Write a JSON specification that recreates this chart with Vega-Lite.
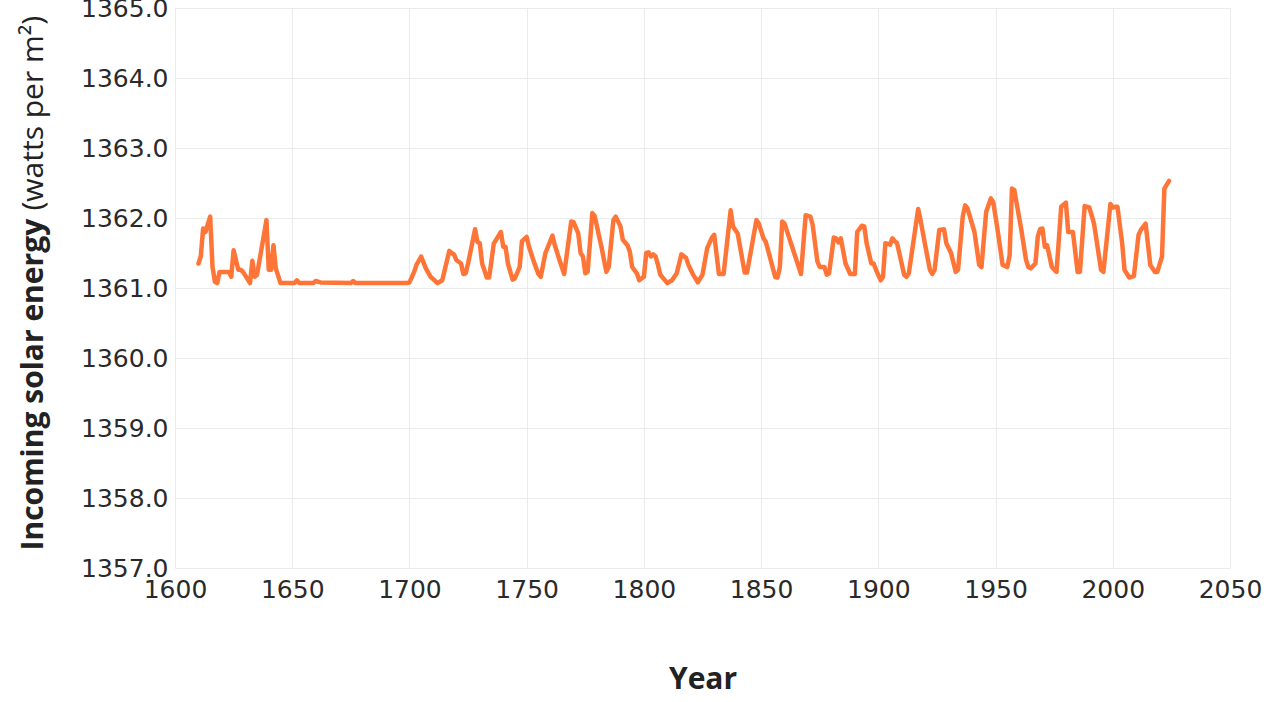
{
  "$schema": "https://vega.github.io/schema/vega-lite/v6.json",
  "autosize": {"type": "none"},
  "width": 1055,
  "height": 560,
  "padding": {"left": 175, "top": 8, "right": 40, "bottom": 134},
  "background": "white",
  "config": {"view": {"stroke": null}},
  "data": {"values": [
    {"year":1610,"tsi":1361.35},{"year":1611,"tsi":1361.45},{"year":1612,"tsi":1361.85},{"year":1613,"tsi":1361.8},{"year":1615,"tsi":1362.02},
    {"year":1616,"tsi":1361.3},{"year":1617,"tsi":1361.09},{"year":1618,"tsi":1361.07},{"year":1619,"tsi":1361.23},{"year":1623,"tsi":1361.23},
    {"year":1624,"tsi":1361.16},{"year":1625,"tsi":1361.54},{"year":1627,"tsi":1361.26},{"year":1628,"tsi":1361.26},{"year":1629,"tsi":1361.23},
    {"year":1632,"tsi":1361.07},{"year":1633,"tsi":1361.39},{"year":1634,"tsi":1361.16},{"year":1635,"tsi":1361.19},{"year":1639,"tsi":1361.97},
    {"year":1640,"tsi":1361.26},{"year":1641,"tsi":1361.26},{"year":1642,"tsi":1361.61},{"year":1643,"tsi":1361.28},{"year":1645,"tsi":1361.07},
    {"year":1651,"tsi":1361.07},{"year":1652,"tsi":1361.11},{"year":1653,"tsi":1361.07},{"year":1659,"tsi":1361.07},{"year":1660,"tsi":1361.1},
    {"year":1662,"tsi":1361.08},{"year":1675,"tsi":1361.07},{"year":1676,"tsi":1361.1},{"year":1677,"tsi":1361.07},{"year":1699,"tsi":1361.07},
    {"year":1700,"tsi":1361.08},{"year":1702,"tsi":1361.23},{"year":1703,"tsi":1361.33},{"year":1705,"tsi":1361.45},{"year":1707,"tsi":1361.28},
    {"year":1709,"tsi":1361.16},{"year":1712,"tsi":1361.07},{"year":1714,"tsi":1361.11},{"year":1717,"tsi":1361.53},{"year":1718,"tsi":1361.5},
    {"year":1719,"tsi":1361.48},{"year":1720,"tsi":1361.4},{"year":1722,"tsi":1361.35},{"year":1723,"tsi":1361.2},{"year":1724,"tsi":1361.21},
    {"year":1725,"tsi":1361.35},{"year":1728,"tsi":1361.84},{"year":1729,"tsi":1361.66},{"year":1730,"tsi":1361.64},{"year":1731,"tsi":1361.35},
    {"year":1733,"tsi":1361.15},{"year":1734,"tsi":1361.15},{"year":1736,"tsi":1361.64},{"year":1737,"tsi":1361.69},{"year":1739,"tsi":1361.8},
    {"year":1740,"tsi":1361.59},{"year":1741,"tsi":1361.59},{"year":1742,"tsi":1361.35},{"year":1744,"tsi":1361.12},{"year":1745,"tsi":1361.14},
    {"year":1747,"tsi":1361.3},{"year":1748,"tsi":1361.67},{"year":1750,"tsi":1361.73},{"year":1751,"tsi":1361.59},{"year":1753,"tsi":1361.38},
    {"year":1755,"tsi":1361.2},{"year":1756,"tsi":1361.16},{"year":1758,"tsi":1361.5},{"year":1759,"tsi":1361.58},{"year":1761,"tsi":1361.75},
    {"year":1762,"tsi":1361.61},{"year":1764,"tsi":1361.4},{"year":1766,"tsi":1361.2},{"year":1769,"tsi":1361.95},{"year":1770,"tsi":1361.94},
    {"year":1772,"tsi":1361.78},{"year":1773,"tsi":1361.5},{"year":1774,"tsi":1361.45},{"year":1775,"tsi":1361.21},{"year":1776,"tsi":1361.23},
    {"year":1778,"tsi":1362.07},{"year":1779,"tsi":1362.03},{"year":1782,"tsi":1361.57},{"year":1784,"tsi":1361.23},{"year":1785,"tsi":1361.3},
    {"year":1787,"tsi":1361.97},{"year":1788,"tsi":1362.02},{"year":1790,"tsi":1361.88},{"year":1791,"tsi":1361.69},{"year":1793,"tsi":1361.61},
    {"year":1794,"tsi":1361.52},{"year":1795,"tsi":1361.3},{"year":1797,"tsi":1361.21},{"year":1798,"tsi":1361.11},{"year":1800,"tsi":1361.16},
    {"year":1801,"tsi":1361.5},{"year":1802,"tsi":1361.51},{"year":1803,"tsi":1361.45},{"year":1804,"tsi":1361.48},{"year":1805,"tsi":1361.45},
    {"year":1806,"tsi":1361.33},{"year":1807,"tsi":1361.19},{"year":1810,"tsi":1361.07},{"year":1812,"tsi":1361.11},{"year":1814,"tsi":1361.21},
    {"year":1816,"tsi":1361.48},{"year":1818,"tsi":1361.43},{"year":1819,"tsi":1361.33},{"year":1821,"tsi":1361.19},{"year":1822,"tsi":1361.14},
    {"year":1823,"tsi":1361.08},{"year":1825,"tsi":1361.19},{"year":1827,"tsi":1361.57},{"year":1829,"tsi":1361.72},{"year":1830,"tsi":1361.76},
    {"year":1832,"tsi":1361.2},{"year":1834,"tsi":1361.2},{"year":1837,"tsi":1362.11},{"year":1838,"tsi":1361.88},{"year":1840,"tsi":1361.78},
    {"year":1843,"tsi":1361.22},{"year":1844,"tsi":1361.22},{"year":1848,"tsi":1361.97},{"year":1849,"tsi":1361.92},{"year":1851,"tsi":1361.71},
    {"year":1852,"tsi":1361.66},{"year":1856,"tsi":1361.16},{"year":1857,"tsi":1361.15},{"year":1858,"tsi":1361.3},{"year":1859,"tsi":1361.95},
    {"year":1860,"tsi":1361.92},{"year":1863,"tsi":1361.61},{"year":1867,"tsi":1361.2},{"year":1869,"tsi":1362.04},{"year":1871,"tsi":1362.02},
    {"year":1872,"tsi":1361.9},{"year":1874,"tsi":1361.38},{"year":1875,"tsi":1361.3},{"year":1877,"tsi":1361.3},{"year":1878,"tsi":1361.19},
    {"year":1879,"tsi":1361.21},{"year":1881,"tsi":1361.72},{"year":1882,"tsi":1361.71},{"year":1883,"tsi":1361.65},{"year":1884,"tsi":1361.71},
    {"year":1886,"tsi":1361.35},{"year":1888,"tsi":1361.2},{"year":1890,"tsi":1361.2},{"year":1891,"tsi":1361.8},{"year":1893,"tsi":1361.89},
    {"year":1894,"tsi":1361.88},{"year":1895,"tsi":1361.64},{"year":1897,"tsi":1361.35},{"year":1898,"tsi":1361.35},{"year":1899,"tsi":1361.26},
    {"year":1901,"tsi":1361.11},{"year":1902,"tsi":1361.16},{"year":1903,"tsi":1361.64},{"year":1905,"tsi":1361.62},{"year":1906,"tsi":1361.71},
    {"year":1907,"tsi":1361.67},{"year":1908,"tsi":1361.64},{"year":1911,"tsi":1361.19},{"year":1912,"tsi":1361.16},{"year":1913,"tsi":1361.21},
    {"year":1916,"tsi":1361.9},{"year":1917,"tsi":1362.13},{"year":1918,"tsi":1361.97},{"year":1920,"tsi":1361.61},{"year":1922,"tsi":1361.26},
    {"year":1923,"tsi":1361.2},{"year":1924,"tsi":1361.26},{"year":1926,"tsi":1361.83},{"year":1928,"tsi":1361.84},{"year":1929,"tsi":1361.64},
    {"year":1931,"tsi":1361.5},{"year":1933,"tsi":1361.23},{"year":1934,"tsi":1361.26},{"year":1936,"tsi":1362.02},{"year":1937,"tsi":1362.18},
    {"year":1938,"tsi":1362.14},{"year":1941,"tsi":1361.8},{"year":1943,"tsi":1361.33},{"year":1944,"tsi":1361.3},{"year":1946,"tsi":1362.09},
    {"year":1948,"tsi":1362.28},{"year":1949,"tsi":1362.23},{"year":1951,"tsi":1361.8},{"year":1953,"tsi":1361.33},{"year":1955,"tsi":1361.3},
    {"year":1956,"tsi":1361.47},{"year":1957,"tsi":1362.42},{"year":1958,"tsi":1362.4},{"year":1959,"tsi":1362.21},{"year":1961,"tsi":1361.83},
    {"year":1963,"tsi":1361.4},{"year":1964,"tsi":1361.3},{"year":1965,"tsi":1361.28},{"year":1967,"tsi":1361.35},{"year":1968,"tsi":1361.73},
    {"year":1969,"tsi":1361.84},{"year":1970,"tsi":1361.85},{"year":1971,"tsi":1361.59},{"year":1972,"tsi":1361.61},{"year":1974,"tsi":1361.3},
    {"year":1976,"tsi":1361.23},{"year":1978,"tsi":1362.16},{"year":1980,"tsi":1362.22},{"year":1981,"tsi":1361.8},{"year":1983,"tsi":1361.8},
    {"year":1985,"tsi":1361.23},{"year":1986,"tsi":1361.23},{"year":1988,"tsi":1362.17},{"year":1990,"tsi":1362.15},{"year":1992,"tsi":1361.92},
    {"year":1995,"tsi":1361.26},{"year":1996,"tsi":1361.23},{"year":1999,"tsi":1362.2},{"year":2000,"tsi":1362.15},{"year":2001,"tsi":1362.16},
    {"year":2002,"tsi":1362.16},{"year":2004,"tsi":1361.64},{"year":2005,"tsi":1361.26},{"year":2007,"tsi":1361.15},{"year":2009,"tsi":1361.17},
    {"year":2011,"tsi":1361.76},{"year":2012,"tsi":1361.83},{"year":2014,"tsi":1361.92},{"year":2016,"tsi":1361.33},{"year":2018,"tsi":1361.23},
    {"year":2019,"tsi":1361.23},{"year":2021,"tsi":1361.45},{"year":2022,"tsi":1362.42},{"year":2024,"tsi":1362.53}
  ]},
  "encoding": {
    "x": {
      "field": "year", "type": "quantitative",
      "scale": {"domain": [1600, 2050], "nice": false, "zero": false},
      "axis": {
        "values": [1600, 1650, 1700, 1750, 1800, 1850, 1900, 1950, 2000, 2050],
        "format": "d", "title": "Year",
        "domain": false, "ticks": false,
        "grid": true, "gridColor": "#ebebeb", "gridWidth": 1,
        "labelFont": "DejaVu Sans", "labelFontSize": 25, "labelColor": "#2a2a2a", "labelPadding": 9,
        "labelFlush": false, "labelOverlap": false,
        "titleFont": "Open Sans", "titleFontSize": 30, "titleFontWeight": "bold", "titleColor": "#222222",
        "titleY": 120, "titleBaseline": "alphabetic"
      }
    }
  },
  "layer": [
    {
      "mark": {"type": "line", "color": "#ff7538", "strokeWidth": 4.5, "strokeJoin": "round", "strokeCap": "round"},
      "encoding": {
        "y": {
          "field": "tsi", "type": "quantitative",
          "scale": {"domain": [1357, 1365], "nice": false, "zero": false},
          "axis": {
            "orient": "left",
            "values": [1357, 1358, 1359, 1360, 1361, 1362, 1363, 1364, 1365],
            "format": ".1f", "title": "Incoming solar energy",
            "domain": false, "ticks": false,
            "grid": true, "gridColor": "#ebebeb", "gridWidth": 1,
            "labelFont": "DejaVu Sans", "labelFontSize": 25, "labelColor": "#2a2a2a", "labelPadding": 7,
            "labelFlush": false, "labelOverlap": false,
            "titleFont": "Open Sans", "titleFontSize": 30, "titleFontWeight": "bold", "titleColor": "#222222",
            "titleAngle": -90, "titleAlign": "left", "titleBaseline": "alphabetic",
            "titleX": -133, "titleY": 542
          }
        }
      }
    },
    {
      "mark": {"type": "line", "strokeOpacity": 0},
      "encoding": {
        "y": {
          "field": "tsi", "type": "quantitative",
          "scale": {"domain": [1357, 1365], "nice": false, "zero": false},
          "axis": {
            "orient": "left",
            "title": "(watts per m²)",
            "domain": false, "ticks": false, "labels": false, "grid": false,
            "titleFont": "Open Sans", "titleFontSize": 30, "titleFontWeight": "normal", "titleColor": "#222222",
            "titleAngle": -90, "titleAlign": "left", "titleBaseline": "alphabetic",
            "titleX": -133, "titleY": 202
          }
        }
      }
    }
  ],
  "resolve": {"scale": {"y": "independent"}}
}
